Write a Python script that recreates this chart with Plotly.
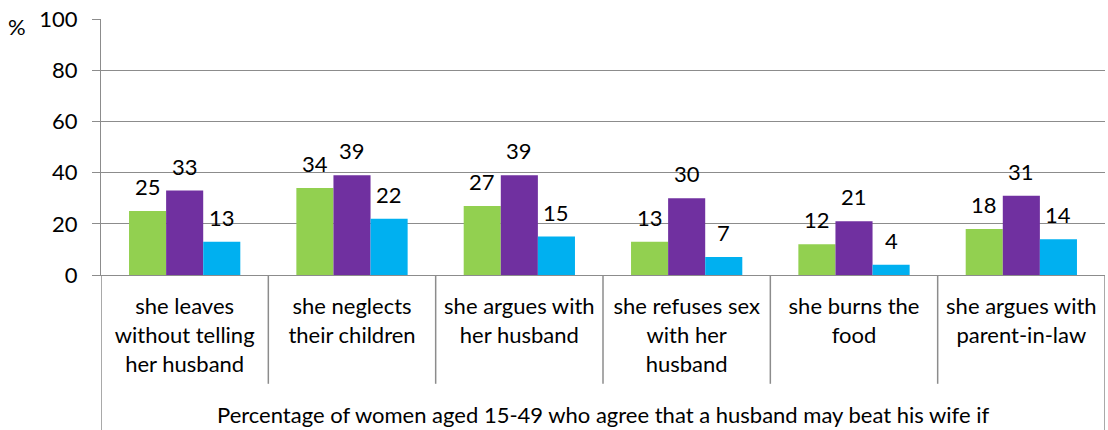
import plotly.graph_objects as go

# category labels (x axis) and the outer group label
categories = [
    "she leaves<br>without telling<br>her husband",
    "she neglects<br>their children",
    "she argues with<br>her husband",
    "she refuses sex<br>with her<br>husband",
    "she burns the<br>food",
    "she argues with<br>parent-in-law",
]
group_label = "Percentage of women aged 15-49 who agree that a husband may beat his wife if"

# three series
series_a = [25, 34, 27, 13, 12, 18]
series_b = [33, 39, 39, 30, 21, 31]
series_c = [13, 22, 15, 7, 4, 14]

y_ticks = [0, 20, 40, 60, 80, 100]

FONT = "Lato"
FS = 22
GRID = "#8c8c8c"
BARGAP = 0.335
x_idx = list(range(len(categories)))
all_series = [(series_a, "#92D050"), (series_b, "#7030A0"), (series_c, "#00B0F0")]

fig = go.Figure()
for vals, col in all_series:
    fig.add_trace(go.Bar(
        x=x_idx, y=vals, marker=dict(color=col, line=dict(width=0)),
        showlegend=False, hoverinfo="skip",
    ))

# value labels sit a little higher above the bars than plotly's own outside text
bar_w = (1 - BARGAP) / len(all_series)
for k, (vals, _) in enumerate(all_series):
    off = (k - (len(all_series) - 1) / 2) * bar_w
    for i, v in zip(x_idx, vals):
        fig.add_annotation(x=i + off, y=v, xref="x", yref="y", text=str(v),
                           showarrow=False, yanchor="bottom", yshift=9,
                           font=dict(family=FONT, size=FS, color="#000000"))

fig.update_layout(
    width=1108, height=430,
    margin=dict(l=101, r=3, t=19, b=155),
    paper_bgcolor="white", plot_bgcolor="white",
    barmode="group", bargap=BARGAP, bargroupgap=0,
    font=dict(family=FONT, size=FS, color="#000000"),
)

fig.update_yaxes(
    range=[0, 100], tickvals=y_ticks, showgrid=True, gridcolor=GRID, gridwidth=1,
    showline=True, linecolor=GRID, linewidth=1,
    ticks="outside", ticklen=8, tickcolor=GRID,
    ticklabelstandoff=10, tickfont=dict(family=FONT, size=FS),
    zeroline=False, automargin=False,
)
fig.update_xaxes(
    range=[-0.5, len(categories) - 0.5], tickvals=x_idx, ticktext=categories,
    showline=True, linecolor=GRID, linewidth=1, ticks="", showgrid=False,
    ticklabelstandoff=12, tickfont=dict(family=FONT, size=FS),
    tickangle=0, automargin=False,
)

# separators between category labels, and longer outer ones
for i in range(len(categories) + 1):
    outer = i in (0, len(categories))
    fig.add_shape(type="line", xref="x", yref="paper",
                  x0=i - 0.5, x1=i - 0.5, y0=0, y1=-0.62 if outer else -0.425,
                  line=dict(color=GRID, width=1.5))

fig.add_annotation(text=group_label, xref="paper", yref="paper", x=0.5, y=-0.545,
                   showarrow=False, font=dict(family=FONT, size=FS), yanchor="middle")
fig.add_annotation(text="%", xref="paper", yref="paper", x=-0.073, y=0.97,
                   showarrow=False, font=dict(family=FONT, size=FS), xanchor="right", yanchor="middle")

# drop the default page margin so the figure fills the window exactly
fig.write_html("out.html", config={"displayModeBar": False},
               post_script="document.body.style.margin='0';")
